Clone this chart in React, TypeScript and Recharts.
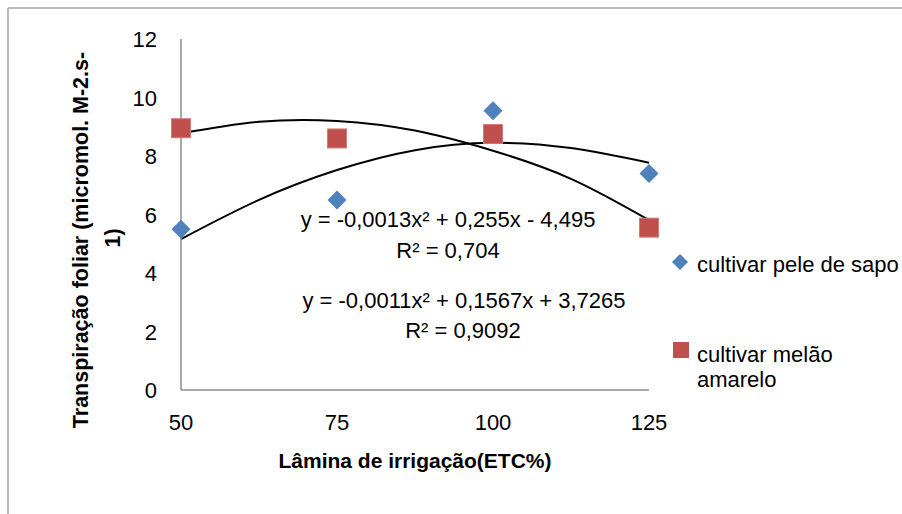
import React from "react";
import { ComposedChart, Scatter, Line, XAxis, YAxis } from "recharts";

// values
const lamina = [50, 75, 100, 125];
const peleDeSapo = [5.5, 6.5, 9.55, 7.4];
const melaoAmarelo = [8.95, 8.6, 8.75, 5.55];

// trendline readings (polynomial, order 2) at intermediate points
const trendX = [50, 62.5, 75, 87.5, 100, 112.5, 125];
const trendPele = [5.16, 6.5, 7.52, 8.2, 8.45, 8.27, 7.77];
const trendMelao = [8.77, 9.17, 9.2, 8.87, 8.18, 7.22, 5.81];

const xTicks = [50, 75, 100, 125];
const yTicks = [0, 2, 4, 6, 8, 10, 12];

const seriesNames = ["cultivar pele de sapo", "cultivar melão", "amarelo"];
const equations = [
  "y = -0,0013x² + 0,255x - 4,495",
  "R² = 0,704",
  "y = -0,0011x² + 0,1567x + 3,7265",
  "R² = 0,9092",
];

const BLUE = "#4F81BD";
const RED = "#C0504D";
const FONT = "'Liberation Sans', Arial, sans-serif";

const peleData = lamina.map((x, i) => ({ x, y: peleDeSapo[i] }));
const melaoData = lamina.map((x, i) => ({ x, y: melaoAmarelo[i] }));
const trendPeleData = trendX.map((x, i) => ({ x, y: trendPele[i] }));
const trendMelaoData = trendX.map((x, i) => ({ x, y: trendMelao[i] }));

const Diamond = (props: any) => {
  const { cx, cy } = props;
  const r = 9.5;
  return (
    <polygon
      points={`${cx},${cy - r} ${cx + r},${cy} ${cx},${cy + r} ${cx - r},${cy}`}
      fill={BLUE}
    />
  );
};

const Square = (props: any) => {
  const { cx, cy } = props;
  const s = 19;
  return (
    <rect
      x={cx - s / 2}
      y={cy - s / 2}
      width={s}
      height={s}
      fill={RED}
      stroke="#d07a77"
      strokeWidth={1}
    />
  );
};

const AxisTick = (props: any) => {
  const { x, y, payload, textAnchor, orientation } = props;
  const isX = orientation === "bottom";
  return (
    <text
      x={x}
      y={y}
      dy={isX ? 17 : 8}
      textAnchor={isX ? "middle" : textAnchor}
      fontSize={22}
      fontFamily={FONT}
      fill="#000"
    >
      {payload.value}
    </text>
  );
};

export default function App() {
  return (
    <div style={{ position: "absolute", left: 0, top: 0, width: 902, height: 514, background: "#fff" }}>
      <ComposedChart
        width={902}
        height={514}
        margin={{ top: 39, right: 253, bottom: 0, left: 0 }}
        style={{ fontFamily: FONT }}
      >
        <line x1={8} y1={8} x2={902} y2={8} stroke="#a6a6a6" strokeWidth={1.5} />
        <line x1={8} y1={8} x2={8} y2={514} stroke="#a6a6a6" strokeWidth={1.5} />
        <XAxis
          type="number"
          dataKey="x"
          domain={[50, 125]}
          ticks={xTicks}
          height={124}
          tickLine={false}
          tickSize={0}
          tickMargin={23}
          axisLine={{ stroke: "#8c8c8c", strokeWidth: 1.5 }}
          tick={<AxisTick />}
        />
        <YAxis
          type="number"
          dataKey="y"
          domain={[0, 12]}
          ticks={yTicks}
          width={181}
          tickLine={false}
          tickSize={0}
          tickMargin={24}
          axisLine={{ stroke: "#8c8c8c", strokeWidth: 1.5 }}
          tick={<AxisTick />}
        />
        <Line
          data={trendPeleData}
          dataKey="y"
          type="natural"
          stroke="#000"
          strokeWidth={2}
          dot={false}
          activeDot={false}
          isAnimationActive={false}
        />
        <Line
          data={trendMelaoData}
          dataKey="y"
          type="natural"
          stroke="#000"
          strokeWidth={2}
          dot={false}
          activeDot={false}
          isAnimationActive={false}
        />
        <Scatter data={peleData} dataKey="y" shape={Diamond} isAnimationActive={false} />
        <Scatter data={melaoData} dataKey="y" shape={Square} isAnimationActive={false} />

        <text x={448} y={227} textAnchor="middle" fontSize={22} fontFamily={FONT} fill="#000">
          {equations[0]}
        </text>
        <text x={448} y={258} textAnchor="middle" fontSize={22} fontFamily={FONT} fill="#000">
          {equations[1]}
        </text>
        <text x={464} y={308} textAnchor="middle" fontSize={22} fontFamily={FONT} fill="#000">
          {equations[2]}
        </text>
        <text x={463} y={338} textAnchor="middle" fontSize={22} fontFamily={FONT} fill="#000">
          {equations[3]}
        </text>

        <text
          x={415}
          y={460}
          textAnchor="middle"
          dominantBaseline="central"
          fontSize={21}
          fontWeight="bold"
          fontFamily={FONT}
          fill="#000"
        >
          Lâmina de irrigação(ETC%)
        </text>
        <text
          x={81}
          y={240}
          transform="rotate(-90 81 240)"
          textAnchor="middle"
          dominantBaseline="central"
          fontSize={21.5}
          fontWeight="bold"
          fontFamily={FONT}
          fill="#000"
        >
          Transpiração foliar (micromol. M-2.s-
        </text>
        <text
          x={113}
          y={238}
          transform="rotate(-90 113 238)"
          textAnchor="middle"
          dominantBaseline="central"
          fontSize={21.5}
          fontWeight="bold"
          fontFamily={FONT}
          fill="#000"
        >
          1)
        </text>

        <polygon points="680,254 688,262 680,270 672,262" fill={BLUE} />
        <text x={697} y={272} fontSize={22} fontFamily={FONT} fill="#000">
          {seriesNames[0]}
        </text>
        <rect x={673} y={342} width={16} height={16} fill={RED} />
        <text x={697} y={362} fontSize={22} fontFamily={FONT} fill="#000">
          {seriesNames[1]}
        </text>
        <text x={697} y={387} fontSize={22} fontFamily={FONT} fill="#000">
          {seriesNames[2]}
        </text>
      </ComposedChart>
    </div>
  );
}
